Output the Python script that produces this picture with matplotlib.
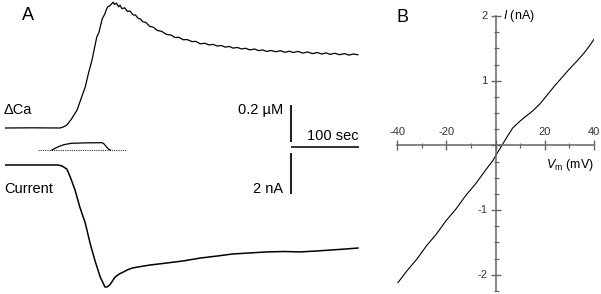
import matplotlib
matplotlib.use("Agg")
import matplotlib.pyplot as plt

plt.rcParams['font.family'] = ['Liberation Sans', 'DejaVu Sans']
plt.rcParams['mathtext.fontset'] = 'custom'
plt.rcParams['mathtext.rm'] = 'Liberation Sans'
plt.rcParams['mathtext.it'] = 'Liberation Sans:italic'

# ---- panel A data: time in sec ----
ca_time = [0, 40, 81, 86, 91, 98, 106, 112, 118, 123, 128, 132, 135, 138, 140, 143, 147,
           149, 151, 154, 157, 159, 161, 164, 167, 169, 172, 176, 180, 184, 188, 192, 196,
           199, 203, 207, 213, 218, 224, 230, 238, 244, 250, 256, 262, 268, 275, 281, 287,
           294, 300, 306, 312, 318, 324, 330, 335, 342, 348, 354, 360, 367, 373, 379, 385,
           392, 398, 405, 412, 418, 424, 431, 438, 445, 452, 459, 466, 472, 478, 485, 492,
           499, 506, 512, 519]
ca_conc = [0, 0.001, 0, 0.006, 0.016, 0.05, 0.097, 0.16, 0.222, 0.3, 0.368, 0.44, 0.492,
           0.515, 0.546, 0.59, 0.618, 0.64, 0.655, 0.66, 0.672, 0.68, 0.668, 0.675, 0.655,
           0.664, 0.645, 0.65, 0.63, 0.632, 0.612, 0.61, 0.592, 0.59, 0.574, 0.571, 0.549,
           0.545, 0.527, 0.523, 0.505, 0.503, 0.489, 0.49, 0.477, 0.478, 0.467, 0.468, 0.455,
           0.458, 0.449, 0.452, 0.443, 0.446, 0.437, 0.441, 0.432, 0.435, 0.427, 0.431, 0.422,
           0.427, 0.418, 0.422, 0.414, 0.419, 0.412, 0.418, 0.409, 0.415, 0.408, 0.414, 0.405,
           0.411, 0.402, 0.408, 0.4, 0.406, 0.398, 0.404, 0.396, 0.402, 0.394, 0.4, 0.396]

cur_time = [0, 78, 84, 91, 96, 103, 110, 118, 125, 132, 140, 147, 150, 154, 157, 162, 168,
            174, 181, 188, 200, 213, 238, 262, 287, 312, 335, 360, 385, 410, 434, 456, 478,
            500, 519]
cur_na = [0, 0, -0.05, -0.2, -0.59, -1.22, -2.05, -2.83, -3.8, -4.63, -5.46, -5.95, -5.95,
          -5.85, -5.71, -5.46, -5.32, -5.22, -5.1, -5.02, -4.95, -4.88, -4.78, -4.68, -4.54,
          -4.44, -4.34, -4.29, -4.24, -4.22, -4.24, -4.2, -4.15, -4.1, -4.05]

stim_time = [69, 75, 81, 87, 98, 120, 143, 146, 149, 152, 155]
stim_val = [0, 0.3, 0.55, 0.74, 0.92, 0.98, 1.0, 0.8, 0.45, 0.15, 0]
stim_base = [48, 178]

# ---- panel B data: I-V curve ----
iv_mv = [-39.6, -36, -32, -28, -24, -20, -16, -12, -8, -4, -1, 0.5, 2.6, 4.5, 7, 9.5, 12,
         15, 18, 21, 24, 27, 30, 33, 36, 38, 40]
iv_na = [-2.12, -1.94, -1.76, -1.55, -1.37, -1.16, -0.98, -0.77, -0.59, -0.38, -0.23, -0.13,
         0.0, 0.12, 0.27, 0.36, 0.44, 0.53, 0.64, 0.78, 0.92, 1.05, 1.18, 1.3, 1.43, 1.53, 1.64]
x_major = [-40, -20, 0, 20, 40]
y_major = [-2, -1, 0, 1, 2]

W, H = 601, 294
fig = plt.figure(figsize=(W / 100, H / 100), dpi=100)


def rect(x0, y0, x1, y1):
    return [x0 / W, 1 - y1 / H, (x1 - x0) / W, (y1 - y0) / H]


def ftext(x, y, s, **kw):
    fig.text(x / W, 1 - y / H, s, **kw)


t_max = 355 / 0.68
# calcium trace
ax_ca = fig.add_axes(rect(5, 0, 360, 150))
ax_ca.plot(ca_time, ca_conc, color='black', lw=0.9)
ax_ca.set_xlim(0, t_max)
ax_ca.set_ylim(-22 * 0.2 / 37, 128 * 0.2 / 37)
ax_ca.axis('off')
# scale bars
ax_ca.plot([420.6, 420.6], [-0.0757, 0.124], color='#222222', lw=1.5, solid_capstyle='butt')
ax_ca.plot([420.6, 520.6], [-0.1027, -0.1027], color='#222222', lw=1.3, solid_capstyle='butt',
           clip_on=False)

# stimulus trace
ax_st = fig.add_axes(rect(5, 135, 360, 155))
ax_st.plot(stim_base, [0, 0], color='#333333', lw=0.8, ls=(0, (1, 1)))
ax_st.plot(stim_time, stim_val, color='black', lw=0.9)
ax_st.set_xlim(0, t_max)
ax_st.set_ylim(-5 / 7.3, 15 / 7.3)
ax_st.axis('off')

# current trace
ax_i = fig.add_axes(rect(5, 150, 360, 294))
ax_i.plot(cur_time, cur_na, color='black', lw=1.1)
ax_i.set_xlim(0, t_max)
ax_i.set_ylim(-129 * 2 / 41, 15 * 2 / 41)
ax_i.axis('off')
ax_i.plot([420.6, 420.6], [-1.415, 0.585], color='#222222', lw=1.5, solid_capstyle='butt')

ftext(22, 16, 'A', fontsize=13, va='center', ha='left')
ftext(4, 110, '\u0394Ca', fontsize=10.5, va='center', ha='left')
ftext(4, 189, 'Current', fontsize=10.5, va='center', ha='left')
ftext(283, 110, '0.2 \u00b5M', fontsize=10.5, va='center', ha='right')
ftext(359, 136, '100 sec', fontsize=10.5, va='center', ha='right')
ftext(283, 189, '2 nA', fontsize=10.5, va='center', ha='right')

# ---- panel B ----
gray = '#666666'
ax_b = fig.add_axes(rect(397, 16, 594, 291))
ax_b.plot(iv_mv, iv_na, color='black', lw=0.8)
ax_b.set_xlim(-40, 40)
ax_b.set_ylim(-2.25, 2)
for side in ['top', 'right']:
    ax_b.spines[side].set_visible(False)
ax_b.spines['left'].set_position(('data', 0))
ax_b.spines['bottom'].set_position(('data', 0))
for side in ['left', 'bottom']:
    ax_b.spines[side].set_color(gray)
    ax_b.spines[side].set_linewidth(1.1)
ax_b.set_xticks(x_major)
ax_b.set_xticks([-30, -10, 10, 30], minor=True)
ax_b.set_yticks(y_major)
ax_b.set_yticks([-2.25, -1.75, -1.5, -1.25, -0.75, -0.5, -0.25, 0.25, 0.5, 0.75,
                 1.25, 1.5, 1.75], minor=True)
ax_b.tick_params(which='major', direction='inout', length=7.5, width=1.0, color=gray,
                 labelbottom=False, labelleft=False)
ax_b.tick_params(which='minor', direction='inout', length=3.6, width=0.9, color=gray)
ax_b.patch.set_visible(False)
for v in x_major:
    if v != 0:
        ax_b.text(v, 0.13, str(v), fontsize=8, ha='center', va='bottom', color='#333333')
for v in y_major:
    if v != 0:
        ax_b.text(-3.3, v, str(v), fontsize=8, ha='right', va='center', color='#333333')

ftext(397, 17, 'B', fontsize=13, va='center', ha='left')
ftext(503, 16, r'$I$ (nA)', fontsize=9, va='center', ha='left')
ftext(594, 165, r'$V_{\rm m}$ (mV)', fontsize=9, va='center', ha='right')

fig.savefig('out.png', dpi=100)
